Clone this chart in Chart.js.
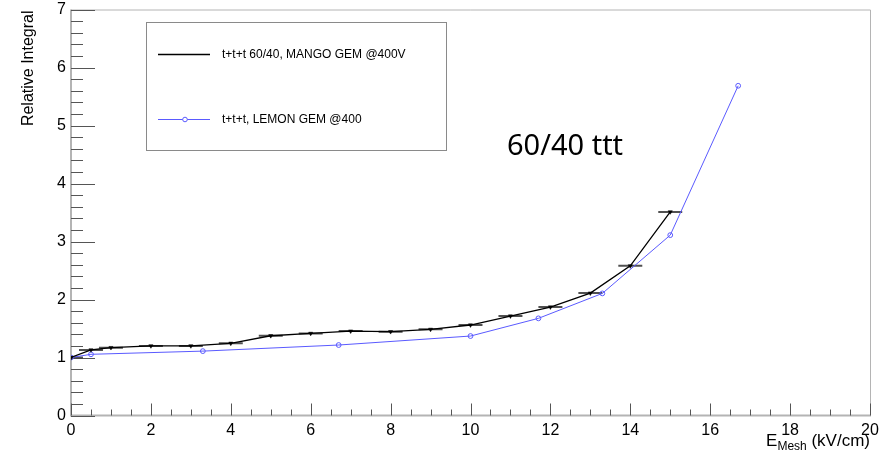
<!DOCTYPE html>
<html>
<head>
<meta charset="utf-8">
<title>Relative Integral vs E_Mesh</title>
<script src="https://cdn.jsdelivr.net/npm/chart.js@4/dist/chart.umd.min.js"></script>
<style>
  html, body { margin: 0; padding: 0; background: #ffffff; }
  #wrap { width: 895px; height: 460px; }
</style>
</head>
<body>
<div id="wrap"><canvas id="c" width="895" height="460"></canvas></div>
<script>
// MANGO GEM, t+t+t 60/40 @400V (with horizontal field uncertainty)
const meshFieldMango = [0, 0.5, 1, 2, 3, 4, 5, 6, 7, 8, 9, 10, 11, 12, 13, 14, 15];
const integralMango  = [1.00, 1.13, 1.17, 1.20, 1.20, 1.245, 1.375, 1.415, 1.455, 1.445, 1.485, 1.56, 1.715, 1.87, 2.11, 2.58, 3.51];
const fieldErrMango  = [0.3, 0.3, 0.3, 0.3, 0.3, 0.3, 0.3, 0.3, 0.3, 0.3, 0.3, 0.3, 0.3, 0.3, 0.3, 0.3, 0.3];

// LEMON GEM, t+t+t @400
const meshFieldLemon = [0, 0.5, 3.3, 6.7, 10, 11.7, 13.3, 15, 16.7];
const integralLemon  = [1.00, 1.055, 1.11, 1.215, 1.37, 1.675, 2.105, 3.11, 5.685];

// Axis ranges and tick steps
const xRange = [0, 20];
const yRange = [0, 7];
const xMajorStep = 2, xMinorStep = 0.5;
const yMajorStep = 1, yMinorStep = 0.2;

const legendLabels = ['t+t+t 60/40, MANGO GEM @400V', 't+t+t, LEMON GEM @400'];
const annotationText = '60/40 ttt';
const yTitle = 'Relative Integral';

const BLUE = '#5a5aff';

function toPoints(xs, ys) { return xs.map((x, i) => ({ x: x, y: ys[i] })); }

// Inward ROOT-style ticks, frame, error bars
const frameAndTicks = {
  id: 'frameAndTicks',
  beforeDatasetsDraw(chart) {
    const { ctx, chartArea: a, scales: { x, y } } = chart;
    ctx.save();
    // frame
    ctx.strokeStyle = '#b4b4b4';
    ctx.lineWidth = 1;
    ctx.beginPath();
    ctx.moveTo(a.left, a.top + 0.5); ctx.lineTo(a.right + 0.5, a.top + 0.5);
    ctx.lineTo(a.right + 0.5, a.bottom);
    ctx.stroke();
    ctx.lineWidth = 2;
    ctx.beginPath();
    ctx.moveTo(a.left, a.top); ctx.lineTo(a.left, a.bottom); ctx.lineTo(a.right + 1, a.bottom);
    ctx.stroke();

    // ticks
    ctx.strokeStyle = '#555';
    ctx.lineWidth = 1;
    ctx.beginPath();
    const nx = Math.round((xRange[1] - xRange[0]) / xMinorStep);
    for (let i = 0; i <= nx; i++) {
      const v = xRange[0] + i * xMinorStep;
      const px = Math.round(x.getPixelForValue(v)) + 0.5;
      const major = Math.abs(v / xMajorStep - Math.round(v / xMajorStep)) < 1e-6;
      ctx.moveTo(px, a.bottom);
      ctx.lineTo(px, a.bottom - (major ? 12 : 6));
    }
    const ny = Math.round((yRange[1] - yRange[0]) / yMinorStep);
    for (let i = 0; i <= ny; i++) {
      const v = yRange[0] + i * yMinorStep;
      const py = Math.round(y.getPixelForValue(v)) + 0.5;
      const major = Math.abs(v / yMajorStep - Math.round(v / yMajorStep)) < 1e-6;
      ctx.moveTo(a.left, py);
      ctx.lineTo(a.left + (major ? 24 : 12), py);
    }
    ctx.stroke();

    // horizontal error bars of the MANGO series
    ctx.beginPath();
    ctx.rect(a.left, a.top, a.right - a.left, a.bottom - a.top);
    ctx.clip();
    ctx.strokeStyle = 'rgba(50,50,50,0.85)';
    ctx.lineWidth = 2;
    ctx.beginPath();
    meshFieldMango.forEach((e, i) => {
      const py = y.getPixelForValue(integralMango[i]);
      const x1 = x.getPixelForValue(e - fieldErrMango[i]);
      const x2 = x.getPixelForValue(e + fieldErrMango[i]);
      ctx.moveTo(x1, py); ctx.lineTo(x2, py);
    });
    ctx.stroke();
    ctx.restore();
  },
  afterDraw(chart) {
    const { ctx, chartArea: a } = chart;
    ctx.save();
    // legend box
    ctx.strokeStyle = '#8a8a8a';
    ctx.lineWidth = 1;
    ctx.strokeRect(146.5, 22.5, 300, 128);
    ctx.font = '12px "Liberation Sans", Arial, sans-serif';
    ctx.fillStyle = '#000';
    ctx.textBaseline = 'middle';
    ctx.textAlign = 'left';
    // entry 1
    ctx.strokeStyle = '#000';
    ctx.lineWidth = 1.5;
    ctx.beginPath(); ctx.moveTo(158, 54.5); ctx.lineTo(210, 54.5); ctx.stroke();
    ctx.fillText(legendLabels[0], 222, 54.5);
    // entry 2
    ctx.strokeStyle = BLUE;
    ctx.lineWidth = 1;
    ctx.beginPath(); ctx.moveTo(158, 119.5); ctx.lineTo(210, 119.5); ctx.stroke();
    ctx.beginPath(); ctx.arc(185, 119.5, 2.3, 0, Math.PI * 2); ctx.fillStyle = '#fff'; ctx.fill(); ctx.stroke();
    ctx.fillStyle = '#000';
    ctx.fillText(legendLabels[1], 222, 119.5);

    // annotation
    ctx.font = '29px "URW Gothic", "Noto Sans", Lato, sans-serif';
    ctx.textBaseline = 'alphabetic';
    ctx.fillText(annotationText, 507, 155);

    // y axis title
    ctx.save();
    ctx.translate(33, a.top + 1);
    ctx.rotate(-Math.PI / 2);
    ctx.textAlign = 'right';
    ctx.font = '16px "Liberation Sans", Arial, sans-serif';
    ctx.fillText(yTitle, 0, 0);
    ctx.restore();

    // x axis title: E_Mesh (kV/cm), right aligned to the frame
    const big = '17px "Liberation Sans", Arial, sans-serif';
    const small = '12px "Liberation Sans", Arial, sans-serif';
    ctx.textAlign = 'left';
    ctx.font = big; const wE = ctx.measureText('E').width;
    const wTail = ctx.measureText(' (kV/cm)').width;
    ctx.font = small; const wSub = ctx.measureText('Mesh').width;
    let x0 = a.right - (wE + wSub + wTail);
    const base = 446;
    ctx.font = big; ctx.fillText('E', x0, base);
    ctx.font = small; ctx.fillText('Mesh', x0 + wE, base + 4);
    ctx.font = big; ctx.fillText(' (kV/cm)', x0 + wE + wSub, base);
    ctx.restore();
  }
};

new Chart(document.getElementById('c'), {
  type: 'scatter',
  data: {
    datasets: [
      {
        label: legendLabels[1],
        data: toPoints(meshFieldLemon, integralLemon),
        showLine: true,
        borderColor: BLUE,
        borderWidth: 1,
        pointStyle: 'circle',
        pointRadius: 2.4,
        pointBorderWidth: 1,
        pointBorderColor: BLUE,
        pointBackgroundColor: 'rgba(255,255,255,0)',
        order: 2
      },
      {
        label: legendLabels[0],
        data: toPoints(meshFieldMango, integralMango),
        showLine: true,
        borderColor: '#000',
        borderWidth: 1.3,
        pointStyle: 'triangle',
        rotation: 180,
        pointRadius: 2.4,
        pointBorderWidth: 0.5,
        pointBorderColor: '#000',
        pointBackgroundColor: '#000',
        order: 1
      }
    ]
  },
  options: {
    responsive: false,
    animation: false,
    events: [],
    layout: { padding: { top: 9.5, right: 25, left: 0, bottom: 0 } },
    plugins: { legend: { display: false }, tooltip: { enabled: false } },
    scales: {
      x: {
        type: 'linear', min: xRange[0], max: xRange[1],
        grid: { display: false, drawTicks: false },
        border: { display: false },
        ticks: { stepSize: xMajorStep, color: '#000', padding: 5, font: { family: '"Liberation Sans", Arial, sans-serif', size: 16 }, maxRotation: 0 },
        afterFit(s) { s.height = 44.5; s.paddingLeft = 0; s.paddingRight = 0; }
      },
      y: {
        type: 'linear', min: yRange[0], max: yRange[1],
        grid: { display: false, drawTicks: false },
        border: { display: false },
        ticks: { stepSize: yMajorStep, color: '#000', padding: 5, font: { family: '"Liberation Sans", Arial, sans-serif', size: 16 } },
        afterFit(s) { s.width = 71; s.paddingTop = 0; s.paddingBottom = 0; }
      }
    }
  },
  plugins: [frameAndTicks]
});
</script>
</body>
</html>
